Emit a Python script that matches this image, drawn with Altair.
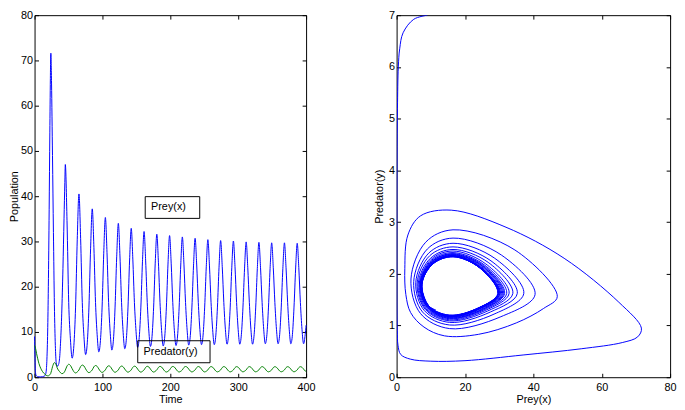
import altair as alt
import pandas as pd

FONT = "Liberation Sans"

# ---------------- data ----------------
time = [
    0, 0.5, 1.0, 1.5, 2.0, 3.0, 4.5, 6.5, 9.0, 11.5, 13.5, 15.5, 17.0, 18.2, 19.3, 20.3, 21.5, 22.5, 23.3, 23.7,
    24.0, 25.0, 26.4, 27.8, 29.2, 30.6, 31.8, 33.2, 35.0, 36.8, 38.4, 40.0, 41.8, 43.4, 44.6,
    45.3, 47.8, 50.3, 52.8, 55.35, 57.9, 60.4, 62.9,
    65.4, 67.85, 70.3, 72.75, 75.2, 77.65, 80.1, 82.55,
    85.0, 87.4, 89.8, 92.2, 94.65, 97.05, 99.5, 101.9,
    104.3, 106.7, 109.1, 111.5, 113.85, 116.25, 118.6, 121.0,
    123.4, 125.8, 128.15, 130.5, 132.9, 135.3, 137.65, 140.0,
    142.4, 144.75, 147.1, 149.5, 151.85, 154.2, 156.6, 158.95,
    161.3, 163.65, 166.0, 168.35, 170.7, 173.05, 175.4, 177.75,
    180.1, 182.45, 184.8, 187.15, 189.5, 191.85, 194.2, 196.55,
    198.9, 201.25, 203.6, 205.95, 208.3, 210.65, 213.0, 215.35,
    217.7, 220.05, 222.4, 224.75, 227.1, 229.45, 231.8, 234.15,
    236.5, 238.85, 241.2, 243.55, 245.9, 248.25, 250.6, 252.95,
    255.3, 257.65, 260.0, 262.35, 264.7, 267.05, 269.4, 271.75,
    274.1, 276.45, 278.8, 281.15, 283.5, 285.85, 288.2, 290.55,
    292.9, 295.25, 297.6, 299.95, 302.3, 304.65, 307.0, 309.35,
    311.7, 314.05, 316.4, 318.75, 321.1, 323.45, 325.8, 328.15,
    330.5, 332.85, 335.2, 337.55, 339.9, 342.25, 344.6, 346.95,
    349.3, 351.65, 354.0, 356.35, 358.7, 361.05, 363.4, 365.75,
    368.1, 370.45, 372.8, 375.15, 377.5, 379.85, 382.2, 384.55,
    386.9, 389.25, 391.6, 393.95, 396.3, 398.65, 400.0,
]

prey = [
    9.0, 5.0, 1.9, 0.9, 0.5, 0.25, 0.12, 0.08, 0.08, 0.1, 0.2, 0.4, 1.2, 4.0, 10.0, 20.0, 37.0, 54.0, 66.0, 70.5,
    71.6, 65.0, 49.0, 32.0, 16.0, 7.0, 3.3, 2.4, 2.7, 4.1, 8.0, 14.0, 24.0, 35.0, 43.0,
    47.0, 34.6, 16.5, 8.5, 4.2, 7.0, 15.5, 30.5,
    40.5, 30.7, 16.5, 9.0, 5.0, 7.6, 15.5, 28.5,
    37.2, 28.7, 16.5, 9.4, 5.6, 8.1, 15.5, 27.4,
    35.3, 27.6, 16.5, 9.7, 6.0, 8.4, 15.5, 26.6,
    34.0, 26.8, 16.5, 9.9, 6.3, 8.6, 15.5, 25.9,
    32.9, 26.1, 16.5, 10.1, 6.6, 8.8, 15.5, 25.5,
    32.2, 25.7, 16.5, 10.2, 6.8, 9.0, 15.5, 25.2,
    31.6, 25.4, 16.5, 10.3, 6.9, 9.1, 15.5, 25.0,
    31.3, 25.2, 16.5, 10.3, 7.0, 9.1, 15.5, 24.8,
    31.0, 25.0, 16.5, 10.4, 7.1, 9.2, 15.5, 24.6,
    30.7, 24.8, 16.5, 10.5, 7.2, 9.3, 15.5, 24.4,
    30.4, 24.6, 16.5, 10.5, 7.2, 9.3, 15.5, 24.3,
    30.2, 24.5, 16.5, 10.5, 7.3, 9.4, 15.5, 24.3,
    30.1, 24.5, 16.5, 10.5, 7.3, 9.4, 15.5, 24.1,
    29.9, 24.3, 16.5, 10.5, 7.3, 9.4, 15.5, 24.0,
    29.8, 24.3, 16.5, 10.6, 7.4, 9.4, 15.5, 24.0,
    29.7, 24.2, 16.5, 10.6, 7.4, 9.4, 15.5, 24.0,
    29.7, 24.2, 16.5, 10.6, 7.4, 9.4, 15.5, 23.9,
    29.6, 24.2, 16.5, 10.6, 7.4, 9.4, 11.5,
]

predator = [
    7.0, 6.92, 6.66, 6.35, 6.0, 5.2, 4.2, 3.0, 2.0, 1.3, 0.9, 0.62, 0.44, 0.35, 0.31, 0.32, 0.43, 0.55, 0.67, 0.78,
    0.95, 1.45, 2.3, 2.9, 3.23, 3.12, 2.75, 2.1, 1.6, 1.25, 0.97, 0.80, 0.83, 1.05, 1.33,
    1.56, 2.46, 2.85, 2.61, 1.9, 1.23, 0.94, 1.17,
    1.60, 2.36, 2.69, 2.48, 1.85, 1.26, 1.01, 1.22,
    1.62, 2.30, 2.59, 2.40, 1.83, 1.29, 1.06, 1.26,
    1.62, 2.25, 2.52, 2.35, 1.82, 1.31, 1.09, 1.28,
    1.62, 2.22, 2.47, 2.30, 1.80, 1.32, 1.11, 1.29,
    1.62, 2.19, 2.44, 2.28, 1.80, 1.33, 1.13, 1.30,
    1.62, 2.17, 2.41, 2.26, 1.80, 1.34, 1.14, 1.31,
    1.62, 2.16, 2.39, 2.24, 1.80, 1.35, 1.15, 1.31,
    1.62, 2.15, 2.38, 2.24, 1.80, 1.35, 1.16, 1.32,
    1.62, 2.15, 2.37, 2.23, 1.80, 1.36, 1.17, 1.33,
    1.62, 2.14, 2.36, 2.22, 1.80, 1.36, 1.17, 1.33,
    1.62, 2.13, 2.35, 2.21, 1.80, 1.37, 1.18, 1.33,
    1.62, 2.13, 2.35, 2.21, 1.80, 1.37, 1.18, 1.33,
    1.62, 2.12, 2.34, 2.20, 1.80, 1.37, 1.19, 1.34,
    1.62, 2.12, 2.34, 2.20, 1.80, 1.37, 1.19, 1.34,
    1.62, 2.12, 2.34, 2.20, 1.80, 1.37, 1.19, 1.34,
    1.62, 2.12, 2.33, 2.19, 1.80, 1.38, 1.20, 1.34,
    1.62, 2.12, 2.33, 2.19, 1.80, 1.38, 1.20, 1.34,
    1.62, 2.12, 2.33, 2.19, 1.80, 1.38, 1.30,
]

time_ticks = [0, 100, 200, 300, 400]
pop_ticks = [0, 10, 20, 30, 40, 50, 60, 70, 80]
preyx_ticks = [0, 20, 40, 60, 80]
predy_ticks = [0, 1, 2, 3, 4, 5, 6, 7]

box_labels = ["Prey(x)", "Predator(y)"]
box_x1 = [163, 152]
box_x2 = [243.3, 258.5]
box_y1 = [35.1, 3.2]
box_y2 = [39.9, 8.06]
text_x = [171.6, 160.6]
text_y = [37.5, 5.6]

# ---------------- tables ----------------
df = pd.DataFrame({"Time": time, "Prey": prey, "Predator": predator,
                   "step": list(range(len(time)))})
ann = pd.DataFrame({"label": box_labels, "x1": box_x1, "x2": box_x2,
                    "y1": box_y1, "y2": box_y2, "tx": text_x, "ty": text_y})

BLUE = "#0000ff"
GREEN = "#008000"


def main_axis(orient, values, title, label_pad, title_pad):
    return alt.Axis(orient=orient, values=values, title=title, offset=-4, tickSize=4,
                    domain=False, grid=False, labelPadding=label_pad,
                    titlePadding=title_pad, labelFlush=False, labelOverlap=False)


def frame_axis(orient, values):
    return alt.Axis(orient=orient, values=values, labels=False, title=None, offset=-4,
                    tickSize=4, domain=False, grid=False)


scale_t = alt.Scale(domain=[0, 400], nice=False, zero=False)
scale_pop = alt.Scale(domain=[0, 80], nice=False)
scale_px = alt.Scale(domain=[0, 80], nice=False)
scale_py = alt.Scale(domain=[0, 7], nice=False)

base = alt.Chart(df)

prey_line = base.mark_line(color=BLUE, strokeWidth=1, interpolate="monotone").encode(
    x=alt.X("Time:Q", scale=scale_t, axis=main_axis("bottom", time_ticks, "Time", 4, 2)),
    y=alt.Y("Prey:Q", scale=scale_pop, axis=main_axis("left", pop_ticks, "Population", 2, 1)),
)
pred_line = base.mark_line(color=GREEN, strokeWidth=1, interpolate="monotone").encode(
    x=alt.X("Time:Q", scale=scale_t, axis=None),
    y=alt.Y("Predator:Q", scale=scale_pop, axis=None),
)
boxes = alt.Chart(ann).mark_rect(fillOpacity=0, stroke="black", strokeWidth=1).encode(
    x=alt.X("x1:Q", scale=scale_t, axis=None),
    x2="x2:Q",
    y=alt.Y("y1:Q", scale=scale_pop, axis=None),
    y2="y2:Q",
)
texts = alt.Chart(ann).mark_text(align="left", baseline="middle", font=FONT,
                                 fontSize=11, color="black").encode(
    x=alt.X("tx:Q", scale=scale_t, axis=None),
    y=alt.Y("ty:Q", scale=scale_pop, axis=None),
    text="label:N",
)
frame_left = base.mark_line(opacity=0).encode(
    x=alt.X("Time:Q", scale=scale_t, axis=frame_axis("top", time_ticks)),
    y=alt.Y("Prey:Q", scale=scale_pop, axis=frame_axis("right", pop_ticks)),
)

left = alt.layer(prey_line, pred_line, boxes, texts, frame_left).resolve_axis(
    x="independent", y="independent").properties(width=276, height=368)

phase = base.mark_line(color=BLUE, strokeWidth=1, interpolate="catmull-rom", clip=True).encode(
    x=alt.X("Prey:Q", scale=scale_px, axis=main_axis("bottom", preyx_ticks, "Prey(x)", 4, 2)),
    y=alt.Y("Predator:Q", scale=scale_py, axis=main_axis("left", predy_ticks, "Predator(y)", 2, 4)),
    order="step:Q",
)
frame_right = base.mark_line(opacity=0).encode(
    x=alt.X("Prey:Q", scale=scale_px, axis=frame_axis("top", preyx_ticks)),
    y=alt.Y("Predator:Q", scale=scale_py, axis=frame_axis("right", predy_ticks)),
    order="step:Q",
)
right = alt.layer(phase, frame_right).resolve_axis(
    x="independent", y="independent").properties(width=278, height=368)

chart = alt.hconcat(left, right, spacing=58).properties(
    padding={"left": 0, "top": -3, "right": 0, "bottom": 0},
    background="white",
).configure_view(stroke="black", strokeWidth=1).configure_axis(
    labelFont=FONT, labelFontSize=11, labelColor="black",
    titleFont=FONT, titleFontSize=11, titleFontWeight="normal", titleColor="black",
    tickColor="black", tickWidth=1,
)

chart.save("out.html", embed_options={"renderer": "svg", "actions": False})
